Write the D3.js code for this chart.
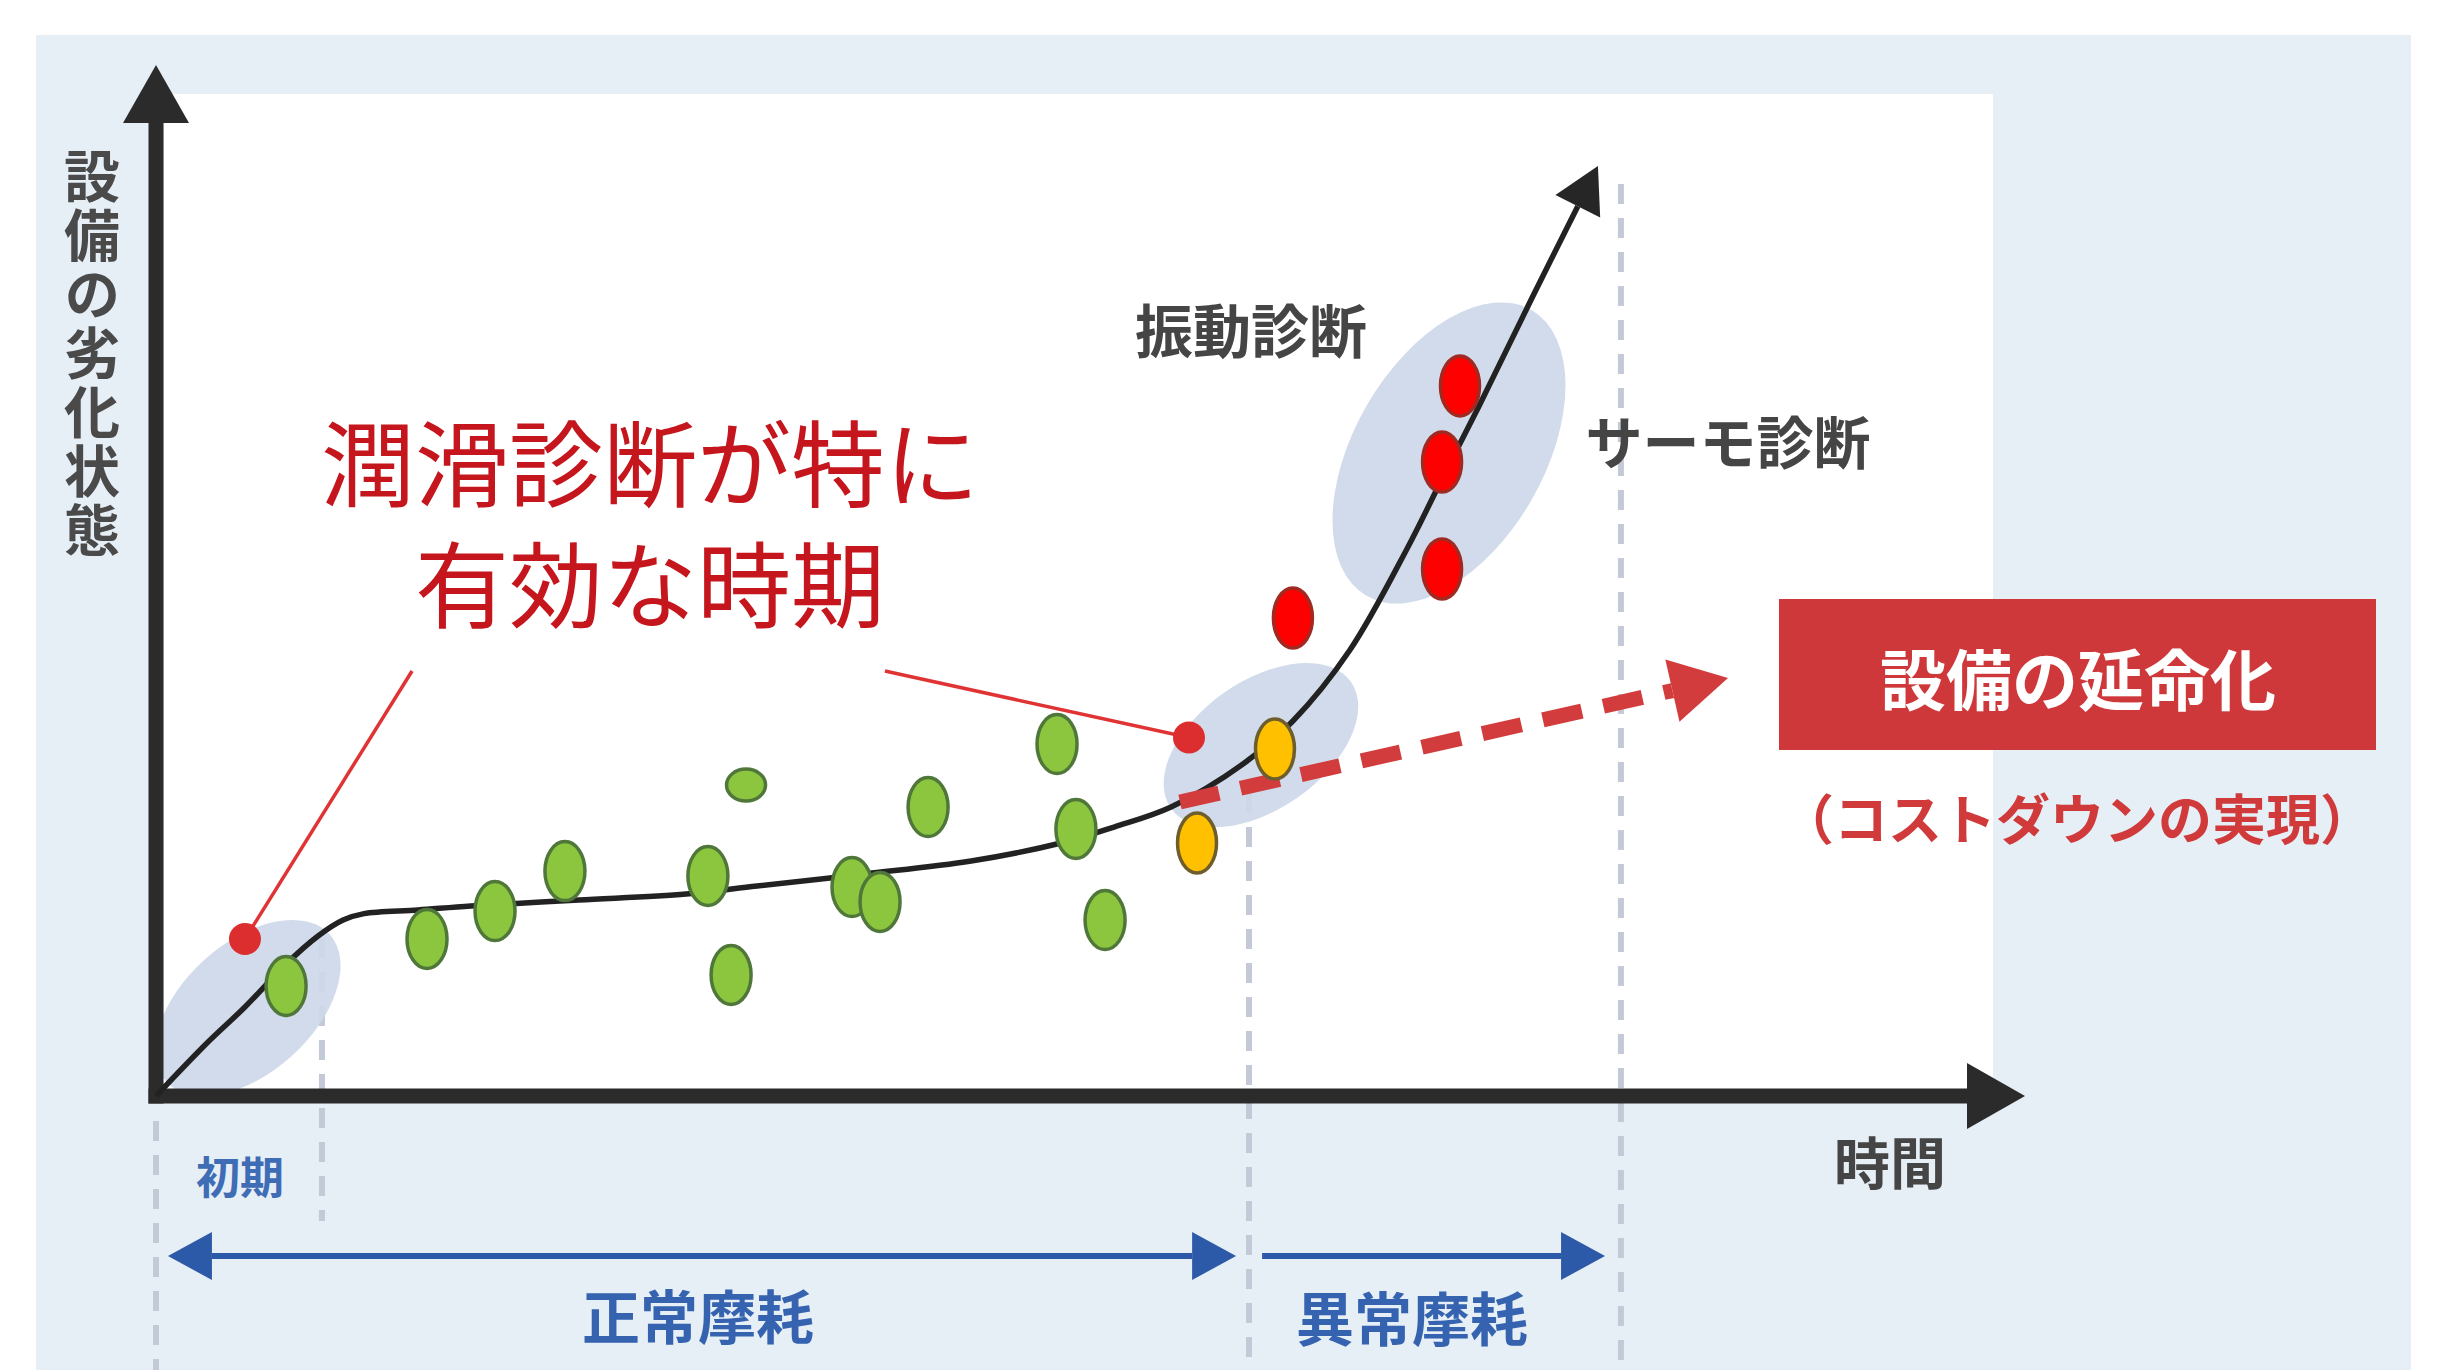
<!DOCTYPE html>
<html><head><meta charset="utf-8">
<script src="https://cdn.jsdelivr.net/npm/d3@7"></script>
<style>
html,body{margin:0;padding:0;background:#fff;}
svg{display:block;}
text{font-family:"Noto Sans CJK JP","Noto Sans",sans-serif;}
</style></head><body>
<svg id="chart" width="2439" height="1370"></svg>
<script>
// ---------- DATA (time 0-100, degradation level 0-100) ----------
const curveTime  = [0, 2.73, 4.76, 6.96, 8.67, 10.01, 11.13, 14.02, 16.85, 22.63, 28.36, 32.16, 37.88, 43.61, 48.42, 51.26, 54.31, 58.16, 60.83, 63.88, 66.93, 68.86, 70.79, 73.62, 77.15];
const curveLevel = [0, 5.14, 8.63, 12.80, 15.52, 17.07, 17.69, 18.04, 18.43, 19.01, 19.59, 20.37, 21.53, 22.79, 24.54, 26.09, 28.03, 32.20, 36.37, 43.26, 53.06, 60.04, 66.93, 77.40, 90.20];

const greenTime  = [6.96, 14.50, 18.14, 21.88, 29.53, 30.77, 37.24, 38.74, 41.31, 48.21, 49.22, 50.78];
const greenLevel = [10.67, 15.23, 17.94, 21.82, 21.34, 11.74, 20.27, 18.82, 28.03, 34.14, 25.90, 17.07];
const greenFlatTime  = [31.57];
const greenFlatLevel = [30.16];
const orangeTime  = [55.70, 59.87];
const orangeLevel = [24.54, 33.66];
const redTime  = [60.83, 68.81, 68.81, 69.77];
const redLevel = [46.36, 51.11, 61.49, 68.87];

const highlightTime  = [4.92, 59.12, 69.18];
const highlightLevel = [8.54, 34.04, 62.37];

const leaderDotTime  = [4.76, 55.27];
const leaderDotLevel = [15.23, 34.77];
const leaderEndTime  = [13.70, 39.00];
const leaderEndLevel = [41.22, 41.22];

const extendFrom = [54.79, 28.52];   // dashed "life extension" trend (time, level)
const extendTo   = [84.11, 40.54];

const phaseBounds = [0, 8.88, 58.48, 78.38];
const phaseLabels = ["初期", "正常摩耗", "異常摩耗"];
const normalWearSpan   = [0.64, 57.79];
const abnormalWearSpan = [59.18, 77.53];
const phaseArrowLevel  = -15.52;

const axisYLabel = "設備の劣化状態";
const axisXLabel = "時間";
const diagLabels = ["振動診断", "サーモ診断"];
const mainNote = ["潤滑診断が特に", "有効な時期"];
const resultTitle = "設備の延命化";
const resultSub = "（コストダウンの実現）";

// ---------- DRAW ----------
const svg = d3.select("#chart");
const x = d3.scaleLinear().domain([0, 100]).range([156, 2025]);
const y = d3.scaleLinear().domain([0, 100]).range([1096, 65]);

function head(g, tx, ty, ux, uy, L, h, color) {
  const bx = tx - ux * L, by = ty - uy * L, px = -uy, py = ux;
  g.append("path")
    .attr("d", `M${tx},${ty}L${bx + px * h},${by + py * h}L${bx - px * h},${by - py * h}Z`)
    .attr("fill", color);
}
function unit(ax, ay, bx, by) { const dx = bx - ax, dy = by - ay, l = Math.hypot(dx, dy); return [dx / l, dy / l]; }

// panels
svg.append("rect").attr("x", 36).attr("y", 35).attr("width", 2375).attr("height", 1335).attr("fill", "#e6eef6");
svg.append("rect").attr("x", x(0) + 8).attr("y", 94).attr("width", 1993 - x(0) - 8).attr("height", y(0) - 94).attr("fill", "#ffffff");

// phase boundary dashed verticals
const vExt = [[1121, 1370], [938, 1221], [793, 1370], [184, 1370]];
svg.append("g").selectAll("line").data(phaseBounds).join("line")
  .attr("x1", d => x(d)).attr("x2", d => x(d))
  .attr("y1", (d, i) => vExt[i][0]).attr("y2", (d, i) => vExt[i][1])
  .attr("stroke", "#c3c9d6").attr("stroke-width", 6).attr("stroke-dasharray", "20,14");

// highlight ellipses
const hlShape = [[110, 65, -42], [110, 64, -35], [165, 95, -60]];
svg.append("g").selectAll("ellipse").data(highlightTime).join("ellipse")
  .attr("cx", 0).attr("cy", 0)
  .attr("rx", (d, i) => hlShape[i][0]).attr("ry", (d, i) => hlShape[i][1])
  .attr("transform", (d, i) => `translate(${x(d)},${y(highlightLevel[i])}) rotate(${hlShape[i][2]})`)
  .attr("fill", "#cdd8e9").attr("opacity", 0.92);

// axes
const axG = svg.append("g");
const AX_L = 58, AX_H = 33, AXC = "#2b2b2b";
axG.append("line").attr("x1", x(0)).attr("y1", y(0)).attr("x2", x(0)).attr("y2", y(100) + AX_L)
  .attr("stroke", AXC).attr("stroke-width", 15).attr("stroke-linecap", "square");
axG.append("line").attr("x1", x(0)).attr("y1", y(0)).attr("x2", x(100) - AX_L).attr("y2", y(0))
  .attr("stroke", AXC).attr("stroke-width", 15).attr("stroke-linecap", "square");
head(axG, x(0), y(100), 0, -1, AX_L, AX_H, AXC);
head(axG, x(100), y(0), 1, 0, AX_L, AX_H, AXC);

// degradation curve
const pts = curveTime.map((t, i) => [x(t), y(curveLevel[i])]);
const tip = pts[pts.length - 1], prev = pts[pts.length - 2];
const cu = unit(prev[0], prev[1], tip[0], tip[1]);
const CL = 45;
const linePts = pts.slice(0, -1).concat([[tip[0] - cu[0] * CL, tip[1] - cu[1] * CL]]);
svg.append("path").attr("d", d3.line().curve(d3.curveCatmullRom.alpha(0.5))(linePts))
  .attr("fill", "none").attr("stroke", "#222").attr("stroke-width", 5.5);
head(svg, tip[0], tip[1], cu[0], cu[1], CL, 25, "#262626");

// dashed extension arrow
const eS = [x(extendFrom[0]), y(extendFrom[1])], eT = [x(extendTo[0]), y(extendTo[1])];
const eu = unit(eS[0], eS[1], eT[0], eT[1]);
const EL = 57;
svg.append("line").attr("x1", eS[0]).attr("y1", eS[1])
  .attr("x2", eT[0] - eu[0] * EL).attr("y2", eT[1] - eu[1] * EL)
  .attr("stroke", "#d23c3c").attr("stroke-width", 15).attr("stroke-dasharray", "40,22");
head(svg, eT[0], eT[1], eu[0], eu[1], EL, 32, "#d23c3c");

// points
function dots(times, levels, rx, ry, fill, stroke) {
  svg.append("g").selectAll("ellipse").data(times).join("ellipse")
    .attr("cx", d => x(d)).attr("cy", (d, i) => y(levels[i]))
    .attr("rx", rx).attr("ry", ry)
    .attr("fill", fill).attr("stroke", stroke).attr("stroke-width", 3.5);
}
dots(greenTime, greenLevel, 20, 29.5, "#8cc63f", "#50773a");
dots(greenFlatTime, greenFlatLevel, 19.5, 16, "#8cc63f", "#50773a");
dots(orangeTime, orangeLevel, 19.5, 30, "#ffc000", "#6e5e2c");
dots(redTime, redLevel, 19.5, 30, "#ff0000", "#a02a22");

// leader lines
const ldG = svg.append("g");
ldG.selectAll("line").data(leaderDotTime).join("line")
  .attr("x1", d => x(d)).attr("y1", (d, i) => y(leaderDotLevel[i]))
  .attr("x2", (d, i) => x(leaderEndTime[i])).attr("y2", (d, i) => y(leaderEndLevel[i]))
  .attr("stroke", "#e03434").attr("stroke-width", 3.5);
ldG.selectAll("circle").data(leaderDotTime).join("circle")
  .attr("cx", d => x(d)).attr("cy", (d, i) => y(leaderDotLevel[i])).attr("r", 16)
  .attr("fill", "#dc2e2e");

// phase arrows
const BL = 44, BH = 24, BC = "#2d5aa8";
const pa = svg.append("g");
const ay = y(phaseArrowLevel);
pa.append("line").attr("x1", x(normalWearSpan[0]) + BL).attr("x2", x(normalWearSpan[1]) - BL)
  .attr("y1", ay).attr("y2", ay).attr("stroke", BC).attr("stroke-width", 6);
head(pa, x(normalWearSpan[0]), ay, -1, 0, BL, BH, BC);
head(pa, x(normalWearSpan[1]), ay, 1, 0, BL, BH, BC);
pa.append("line").attr("x1", x(abnormalWearSpan[0])).attr("x2", x(abnormalWearSpan[1]) - BL)
  .attr("y1", ay).attr("y2", ay).attr("stroke", BC).attr("stroke-width", 6);
head(pa, x(abnormalWearSpan[1]), ay, 1, 0, BL, BH, BC);

// texts
function txt(t, px, py, size, weight, fill, anchor) {
  return svg.append("text").text(t).attr("x", px).attr("y", py)
    .attr("font-size", size).attr("font-weight", weight).attr("fill", fill)
    .attr("text-anchor", anchor || "middle").attr("dominant-baseline", "central");
}
txt(axisYLabel, 92, 354, 56, 700, "#4a4a4a")
  .style("writing-mode", "vertical-rl").style("text-orientation", "upright").attr("letter-spacing", 3);
txt(axisXLabel, 1890, 1159, 56, 700, "#454545");
txt(diagLabels[0], 1251, 328, 58, 700, "#454545");
txt(diagLabels[1], 1728, 439, 57, 700, "#454545");

const note = svg.append("text").attr("font-size", 94).attr("font-weight", 400).attr("fill", "#c5161d")
  .attr("text-anchor", "middle");
note.selectAll("tspan").data(mainNote).join("tspan")
  .attr("x", 650).attr("y", (d, i) => 500 + i * 121).text(d => d);

svg.append("rect").attr("x", 1779).attr("y", 599).attr("width", 597).attr("height", 151).attr("fill", "#cf383b");
txt(resultTitle, 2078, 676, 66, 700, "#ffffff");
txt(resultSub, 2077, 816, 54, 700, "#d03a3a");
txt(phaseLabels[0], 240, 1175, 44, 700, "#3f6db5");
txt(phaseLabels[1], 698, 1314, 58, 700, "#3563b0");
txt(phaseLabels[2], 1412, 1316, 58, 700, "#3563b0");
</script>
</body></html>
